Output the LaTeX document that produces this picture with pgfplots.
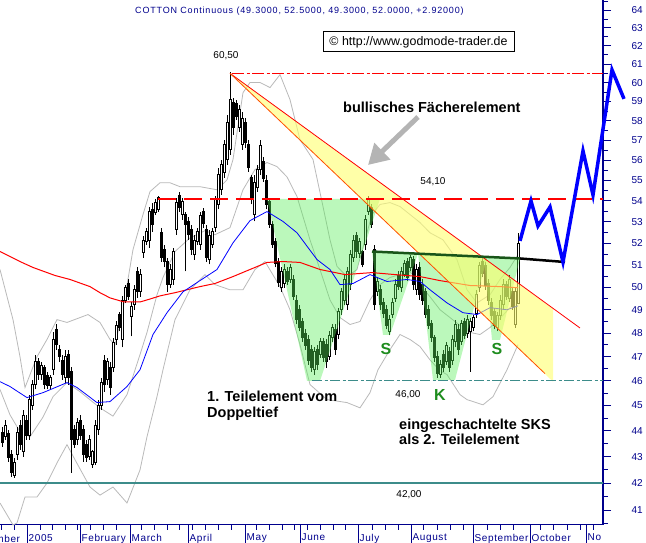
\documentclass[border=0pt]{standalone}
\usepackage{fontspec}
\setmainfont{Liberation Sans}
\usepackage{pgfplots}
\usepackage{pgfplotstable}
\pgfplotsset{compat=1.18}
\usetikzlibrary{arrows.meta}
\definecolor{navyc}{RGB}{0,0,140}
\definecolor{tealc}{RGB}{60,140,138}
\definecolor{bbgray}{RGB}{185,185,185}
\definecolor{greenfill}{RGB}{85,238,85}
\definecolor{yellowfill}{RGB}{255,255,110}
\definecolor{neck}{RGB}{25,85,25}
\definecolor{letgreen}{RGB}{30,140,30}
\definecolor{fanorange}{RGB}{255,80,0}
\definecolor{lvred}{RGB}{255,0,0}
\definecolor{arrowgray}{RGB}{180,180,180}

\pgfplotstableread{
x o h l c
2 43.96 44.15 43.38 43.57
5 43.77 44.42 43.65 44.23
8 43.92 44.04 42.80 42.96
11 43.07 43.27 42.23 42.42
14 42.30 42.96 42.19 42.80
17 43.07 44.15 42.88 43.96
20 44.23 44.42 43.27 43.46
23 43.19 44.83 43.00 44.63
26 44.42 44.63 43.65 43.84
29 43.84 45.44 43.65 45.24
32 45.03 46.05 44.83 45.85
35 45.85 47.09 45.65 46.79
38 46.79 46.96 46.05 46.26
41 46.26 46.79 46.05 46.63
44 46.54 46.67 45.65 45.85
47 46.22 46.38 45.65 45.81
50 45.81 46.26 45.65 46.14
53 46.46 48.03 46.26 47.73
56 48.16 48.37 47.30 47.51
59 47.30 47.51 46.79 47.04
62 46.87 47.09 46.05 46.26
65 46.14 47.30 45.93 47.04
68 47.09 47.30 45.85 46.14
71 46.38 46.58 42.38 43.65
74 44.04 44.23 43.34 43.46
77 43.65 44.50 43.46 44.34
80 44.42 44.63 43.65 43.84
83 44.04 44.23 42.80 43.07
86 43.46 43.65 42.80 42.96
89 43.03 43.84 42.88 43.65
92 42.69 43.27 42.57 43.19
95 42.80 44.42 42.69 44.23
98 44.04 45.24 43.84 45.03
101 45.03 46.14 44.83 45.93
104 46.87 47.09 45.56 45.85
107 46.05 46.96 45.85 46.79
110 46.54 46.79 45.44 45.73
113 46.54 47.81 46.38 47.60
116 47.73 48.50 47.51 48.33
119 48.80 48.93 48.07 48.24
122 47.73 49.62 47.39 49.44
125 49.44 50.12 49.31 49.99
128 50.17 50.35 49.44 49.62
131 48.71 49.35 47.86 49.14
134 49.23 50.12 49.01 49.89
137 50.71 50.89 49.53 49.80
140 49.80 50.80 49.58 50.57
143 51.57 52.35 51.34 52.16
146 52.07 52.73 51.93 52.54
149 52.16 53.73 51.80 53.49
152 53.59 53.92 52.54 52.87
155 53.45 54.07 53.35 53.92
158 53.59 54.26 53.49 54.16
161 52.49 52.73 51.16 51.34
164 51.71 51.93 50.89 51.16
167 51.16 51.34 49.80 50.12
170 50.12 51.03 49.98 50.80
173 50.35 51.80 50.12 51.62
176 52.63 54.16 52.40 53.92
179 54.26 54.45 53.49 53.68
182 53.35 54.16 53.11 53.97
185 53.35 53.49 50.71 52.87
188 53.02 53.21 52.16 52.40
191 52.63 52.87 51.48 51.71
194 51.48 52.40 51.25 52.16
197 52.07 52.73 51.93 52.54
200 51.93 53.49 51.71 53.30
203 53.49 53.68 52.73 52.92
206 52.63 52.87 51.16 51.34
209 51.25 52.63 51.03 52.35
212 51.93 52.73 51.80 52.54
215 52.73 54.26 52.54 54.07
218 53.83 55.63 53.59 55.28
221 54.54 56.03 54.30 55.78
224 55.42 57.03 55.12 56.78
227 56.03 58.30 55.78 57.94
230 56.53 60.59 56.28 59.10
233 58.94 59.21 57.29 57.64
236 58.89 59.10 58.04 58.25
239 57.64 58.84 57.44 58.57
242 56.78 58.47 56.53 58.15
245 57.94 58.15 56.63 56.88
248 56.78 57.03 55.42 55.63
251 55.13 55.28 53.83 54.07
254 53.35 55.28 53.02 54.92
257 54.64 55.78 54.45 55.53
260 55.53 57.03 55.28 56.73
263 55.93 56.13 54.92 55.12
266 55.02 55.28 53.59 53.83
269 53.97 54.16 52.73 52.87
272 52.87 53.02 51.80 51.93
275 52.07 52.25 50.89 51.07
278 51.16 51.34 50.03 50.21
281 49.98 50.89 49.80 50.71
284 50.17 51.03 49.98 50.80
287 50.71 50.89 50.12 50.26
290 50.35 51.03 50.21 50.89
293 50.35 50.57 49.44 49.62
296 49.44 49.67 48.37 48.58
299 49.01 49.23 48.07 48.24
302 48.50 48.67 47.64 47.81
305 47.99 48.16 47.30 47.47
308 47.73 47.94 46.67 46.87
311 47.30 47.51 46.38 46.54
314 46.46 47.39 46.26 47.22
317 47.30 47.51 46.46 46.67
320 47.09 47.81 46.96 47.64
323 47.64 47.81 46.79 46.96
326 47.51 47.73 46.54 46.79
329 47.04 48.07 46.87 47.90
332 47.81 48.37 47.64 48.24
335 48.16 48.37 47.09 47.30
338 47.94 49.10 47.73 48.93
341 49.01 49.98 48.80 49.80
344 49.44 50.57 49.23 50.35
347 49.23 50.89 49.01 50.71
350 50.12 51.71 49.89 51.48
353 51.34 52.40 51.16 52.16
356 52.35 52.54 51.34 51.62
359 51.53 52.25 51.34 52.07
362 51.62 51.71 50.89 51.03
365 51.93 53.35 51.71 53.11
368 53.49 54.26 53.35 54.07
371 53.68 53.83 52.73 52.87
374 51.71 51.93 49.01 49.23
377 49.80 50.44 49.62 50.26
380 49.89 50.08 49.01 49.23
383 49.35 49.53 48.67 48.84
386 49.01 49.23 48.16 48.33
389 48.07 48.80 47.90 48.58
392 48.80 49.53 48.67 49.35
395 49.53 50.35 49.35 50.12
398 50.53 50.71 49.89 50.03
401 49.98 50.89 49.80 50.71
404 50.57 51.25 50.44 51.07
407 51.16 51.34 50.26 50.44
410 50.89 51.48 50.71 51.34
413 51.25 51.43 49.89 50.12
416 49.89 51.03 49.67 50.80
419 50.89 51.16 49.44 49.67
422 50.12 50.35 49.23 49.44
425 49.80 49.98 48.67 48.80
428 49.01 49.23 48.16 48.33
431 48.41 48.58 47.64 47.81
434 47.81 47.94 46.79 46.96
437 47.04 47.22 46.14 46.30
440 46.26 46.87 46.14 46.67
443 47.09 47.30 46.38 46.54
446 46.79 47.64 46.67 47.47
449 47.22 47.39 46.38 46.54
452 46.87 47.94 46.67 47.73
455 47.64 48.58 47.39 48.37
458 48.16 48.37 47.09 47.30
461 47.64 48.58 47.51 48.41
464 48.50 48.67 47.73 47.90
467 47.99 48.76 47.81 48.58
470 48.07 48.67 46.38 48.50
473 48.24 48.80 48.07 48.67
476 48.84 49.89 48.67 49.71
479 49.98 51.16 49.80 50.98
482 51.16 51.34 50.44 50.62
485 50.98 51.16 49.89 50.08
488 50.17 50.35 49.23 49.44
491 49.35 49.53 48.58 48.76
494 48.93 49.10 48.16 48.33
497 48.24 48.93 48.07 48.76
500 48.76 49.67 48.58 49.44
503 49.23 50.35 49.01 50.12
506 50.12 50.26 49.44 49.62
509 49.53 50.53 49.35 50.35
512 49.80 49.98 49.01 49.18
515 48.37 49.98 48.24 49.80
518 49.30 52.50 49.30 52.00
}\candles

\begin{document}
\begin{tikzpicture}
\useasboundingbox (0,0) rectangle (646pt,543pt);
\begin{axis}[
  at={(0pt,18pt)}, anchor=south west,
  scale only axis, width=603pt, height=525pt,
  xmin=0, xmax=603,
  ymode=log, ymin=40.46, ymax=64.59,
  axis x line*=bottom, axis y line*=right,
  x axis line style={navyc, line width=0.9pt},
  y axis line style={navyc, line width=1.8pt},
  tick align=outside, major tick length=8pt, minor tick length=5pt,
  tick style={navyc, line width=1pt},
  xtick={27,80,130,188,245,300,358,411,473,530,586},
  xticklabels={2005,February,March,April,May,June,July,August,September,October,No},
  minor xtick={1,14,40,52,65,77,90,103,116,141,154,167,179,192,205,218,231,256,269,282,294,307,320,333,345,372,385,398,423,437,450,463,487,500,513,540,553,567,580,593},
  ytick={41,42,43,44,45,46,47,48,49,50,51,52,53,54,55,56,57,58,59,60,61,62,63,64},
  yticklabels={41,42,43,44,45,46,47,48,49,50,51,52,53,54,55,56,57,58,59,60,61,62,63,64},
  minor ytick={40.5,41.5,42.5,43.5,44.5,45.5,46.5,47.5,48.5,49.5,50.5,51.5,52.5,53.5,54.5,55.5,56.5,57.5,58.5,59.5,60.5,61.5,62.5,63.5,64.5},
  xticklabel style={anchor=north west, inner sep=0pt, xshift=1.5pt, yshift=-1pt, text=navyc, font=\fontsize{10}{12}\selectfont\addfontfeature{LetterSpace=6}},
  yticklabel style={anchor=west, xshift=17pt, text=navyc, font=\fontsize{10}{12}\selectfont},
  /pgf/number format/assume math mode=true,
  clip=false,
  no markers,
]
% Bollinger bands (upper, middle, lower)
\addplot[bbgray, line width=0.8pt] coordinates {(0,50.80) (13,48.58) (20,47.00) (25,45.73) (37,47.00) (47,47.73) (57,48.58) (67,48.46) (80,48.67) (88,48.80) (100,48.46) (110,47.73) (115,47.51) (122,48.80) (133,51.71) (143,53.35) (150,54.45) (160,54.88) (170,54.88) (180,54.69) (200,54.69) (217,54.54) (227,55.02) (233,56.03) (243,59.47) (250,60.01) (260,60.01) (270,59.74) (280,60.43) (290,59.10) (300,57.03) (313,56.03) (323,53.73) (330,52.16) (337,50.94) (347,50.48) (357,50.80) (365,52.16) (372,53.35) (380,53.83) (390,53.92) (400,53.73) (410,53.35) (420,52.97) (430,52.49) (443,52.16) (457,51.25) (467,49.89) (477,49.31) (490,49.67) (500,50.35) (510,50.89) (518,51.48)};
\addplot[bbgray, line width=0.8pt] coordinates {(0,45.65) (10,44.63) (20,43.96) (30,43.77) (43,44.54) (53,45.36) (67,45.93) (80,45.56) (100,44.91) (113,44.58) (127,45.44) (140,47.09) (147,48.03) (157,49.67) (163,50.44) (175,51.62) (190,52.25) (205,52.59) (215,52.40) (230,52.73) (243,54.54) (255,55.53) (267,55.88) (277,55.68) (287,55.17) (297,54.21) (310,52.16) (320,50.80) (330,49.44) (340,48.67) (350,48.37) (360,48.50) (370,49.44) (380,50.12) (390,50.44) (400,50.57) (410,50.71) (420,50.12) (430,49.58) (440,49.01) (450,48.67) (460,48.33) (470,48.03) (480,47.94) (490,48.24) (500,48.63) (510,49.10) (518,49.44)};
\addplot[bbgray, line width=0.8pt] coordinates {(0,41.26) (13,40.46) (17,40.53) (25,41.48) (37,41.48) (47,42.00) (57,42.76) (67,43.46) (75,42.88) (90,41.85) (100,41.55) (113,41.85) (127,41.26) (140,42.49) (147,43.77) (157,45.36) (163,46.46) (175,48.58) (190,49.89) (205,50.57) (215,50.12) (230,49.89) (243,49.89) (255,50.80) (265,51.16) (280,50.03) (290,49.01) (300,47.51) (310,45.85) (327,45.24) (347,45.12) (360,44.91) (370,45.52) (378,46.46) (390,47.30) (400,47.94) (410,47.73) (420,47.43) (430,46.87) (440,46.42) (447,46.26) (460,45.44) (467,45.24) (483,45.03) (493,45.36) (507,46.46) (518,47.51)};
% candles
\pgfplotsinvokeforeach{0,...,172}{%
  \pgfplotstablegetelem{#1}{x}\of\candles \edef\cx{\pgfplotsretval}%
  \pgfplotstablegetelem{#1}{o}\of\candles \edef\co{\pgfplotsretval}%
  \pgfplotstablegetelem{#1}{h}\of\candles \edef\ch{\pgfplotsretval}%
  \pgfplotstablegetelem{#1}{l}\of\candles \edef\cl{\pgfplotsretval}%
  \pgfplotstablegetelem{#1}{c}\of\candles \edef\cc{\pgfplotsretval}%
  \pgfmathsetmacro\xa{\cx-1.1}%
  \pgfmathsetmacro\xb{\cx+1.1}%
  \pgfmathparse{\co>\cc ? "black" : "white"}\edef\cf{\pgfmathresult}%
  \edef\temp{\noexpand\addplot[black, line width=0.8pt] coordinates {(\cx,\cl) (\cx,\ch)};
    \noexpand\addplot[draw=black, line width=0.6pt, fill=\cf] coordinates {(\xa,\co) (\xb,\co) (\xb,\cc) (\xa,\cc)} -- cycle;}%
  \temp
}
% green formations
\addplot[draw=none, fill=greenfill, fill opacity=0.4] coordinates {(267,54.1) (380,54.1) (320,46.0) (307,46.0)} -- cycle;
\addplot[draw=none, fill=greenfill, fill opacity=0.4] coordinates {(372,51.62) (418,51.53) (390,47.92) (383,47.92)} -- cycle;
\addplot[draw=none, fill=greenfill, fill opacity=0.4] coordinates {(418,51.53) (487,51.34) (455,46.04) (433,46.04)} -- cycle;
\addplot[draw=none, fill=greenfill, fill opacity=0.4] coordinates {(484,51.34) (520,51.30) (500,47.71) (492,47.71)} -- cycle;
% moving averages
\addplot[lvred, line width=1pt] coordinates {(0,51.62) (20,51.16) (33,50.89) (55,50.53) (70,50.35) (90,50.03) (100,49.76) (110,49.53) (124,49.35) (140,49.35) (150,49.48) (160,49.62) (175,49.76) (200,50.03) (215,50.17) (233,50.48) (250,50.80) (267,51.12) (283,51.16) (300,51.12) (320,50.80) (345,50.57) (372,50.66) (395,50.57) (420,50.48) (440,50.30) (470,50.08) (500,50.03) (518,49.98)};
\addplot[blue, line width=0.8pt] coordinates {(0,45.97) (10,45.77) (27,45.32) (43,45.52) (67,45.93) (77,45.73) (97,45.12) (110,45.16) (127,45.77) (140,46.46) (153,47.94) (167,48.88) (183,49.80) (200,50.30) (217,50.80) (233,52.02) (250,53.06) (267,53.49) (283,53.02) (297,52.49) (317,51.25) (330,50.80) (340,50.12) (353,50.17) (370,50.57) (387,50.26) (407,50.35) (420,50.26) (430,49.89) (447,49.31) (463,48.88) (477,48.80) (490,49.10) (507,49.01) (518,49.18)};
% yellow fan
\addplot[draw=none, fill=yellowfill, fill opacity=0.6] coordinates {(230,60.5) (553,49.05) (553,45.97)} -- cycle;
\addplot[lvred, line width=0.8pt] coordinates {(230,60.5) (580,48.22)};
\addplot[fanorange, line width=0.8pt] coordinates {(230,60.5) (545,46.30)};
% horizontal levels (dash-dot made of a dash layer and a dot layer)
\addplot[lvred, line width=1.4pt, dash pattern=on 12pt off 8pt] coordinates {(232,60.5) (603,60.5)};
\addplot[lvred, line width=1.4pt, dash pattern=on 3pt off 17pt, dash phase=-14.5pt] coordinates {(232,60.5) (603,60.5)};
\addplot[lvred, line width=1.3pt, dash pattern=on 18pt off 8pt] coordinates {(158,54.1) (603,54.1)};
\addplot[tealc, line width=1.2pt, dash pattern=on 10pt off 8pt] coordinates {(312,46.0) (603,46.0)};
\addplot[tealc, line width=1.2pt, dash pattern=on 3pt off 15pt, dash phase=-12.5pt] coordinates {(312,46.0) (603,46.0)};
\addplot[tealc, line width=2.5pt] coordinates {(0,42.0) (603,42.0)};
% neckline
\addplot[neck, line width=2.5pt] coordinates {(372,51.62) (520,51.30)};
\addplot[black, line width=2.5pt] coordinates {(520,51.30) (565,51.14)};
% forecast
\addplot[blue, line width=3.5pt, line join=miter] coordinates {(520,52.11) (531,54.00) (538,52.81) (550,53.71) (563,51.14) (583,56.46) (593,54.29) (612,60.69) (624,59.14)};
% month separators
\draw[navyc, line width=1pt] (axis cs:27,40.46) -- ++(0pt,-18pt);
\draw[navyc, line width=1pt] (axis cs:80,40.46) -- ++(0pt,-18pt);
\draw[navyc, line width=1pt] (axis cs:130,40.46) -- ++(0pt,-18pt);
\draw[navyc, line width=1pt] (axis cs:188,40.46) -- ++(0pt,-18pt);
\draw[navyc, line width=1pt] (axis cs:245,40.46) -- ++(0pt,-18pt);
\draw[navyc, line width=1pt] (axis cs:300,40.46) -- ++(0pt,-18pt);
\draw[navyc, line width=1pt] (axis cs:358,40.46) -- ++(0pt,-18pt);
\draw[navyc, line width=1pt] (axis cs:411,40.46) -- ++(0pt,-18pt);
\draw[navyc, line width=1pt] (axis cs:473,40.46) -- ++(0pt,-18pt);
\draw[navyc, line width=1pt] (axis cs:530,40.46) -- ++(0pt,-18pt);
\draw[navyc, line width=1pt] (axis cs:586,40.46) -- ++(0pt,-18pt);
\end{axis}
% left cut-off month label
\node[anchor=north west, inner sep=0pt, text=navyc, font=\fontsize{10}{12}\selectfont\addfontfeature{LetterSpace=6}] at (-30.5pt,8pt) {December};
% title
\node[anchor=base west, inner sep=0pt, text=navyc, font=\fontsize{9}{11}\selectfont\addfontfeature{LetterSpace=9}] at (135pt,529.5pt) {COTTON Continuous (49.3000, 52.5000, 49.3000, 52.0000, +2.92000)};
% copyright box
\node[draw=black, line width=1pt, fill=white, minimum width=191pt, minimum height=20pt, inner sep=0pt, font=\fontsize{12.4}{14}\selectfont] at (418.5pt,501pt) {© http://www.godmode-trader.de};
% level labels
\node[font=\fontsize{10}{12}\selectfont] at (226pt,487pt) {60,50};
\node[font=\fontsize{10}{12}\selectfont] at (433pt,361pt) {54,10};
\node[font=\fontsize{10}{12}\selectfont] at (408pt,148pt) {46,00};
\node[font=\fontsize{10}{12}\selectfont] at (409pt,48pt) {42,00};
% arrow
\draw[arrowgray, line width=5pt, -{Triangle[length=20pt,width=22pt]}] (418pt,426pt) -- (368pt,378pt);
% annotations
\node[anchor=base west, inner sep=0pt, font=\fontsize{14.5}{17}\selectfont\bfseries] at (343pt,430pt) {bullisches Fächerelement};
\node[anchor=base west, inner sep=0pt, font=\fontsize{14.5}{17}\selectfont\bfseries] at (207pt,141pt) {1. Teilelement vom};
\node[anchor=base west, inner sep=0pt, font=\fontsize{14.5}{17}\selectfont\bfseries] at (207pt,125pt) {Doppeltief};
\node[anchor=base west, inner sep=0pt, font=\fontsize{14.5}{17}\selectfont\bfseries] at (399pt,113pt) {eingeschachtelte SKS};
\node[anchor=base west, inner sep=0pt, font=\fontsize{14.5}{17}\selectfont\bfseries] at (399pt,98pt) {als 2. Teilelement};
\node[text=letgreen, font=\fontsize{16}{18}\selectfont\bfseries] at (386pt,194pt) {S};
\node[text=letgreen, font=\fontsize{16}{18}\selectfont\bfseries] at (440pt,148pt) {K};
\node[text=letgreen, font=\fontsize{16}{18}\selectfont\bfseries] at (497pt,194pt) {S};
\end{tikzpicture}
\end{document}
